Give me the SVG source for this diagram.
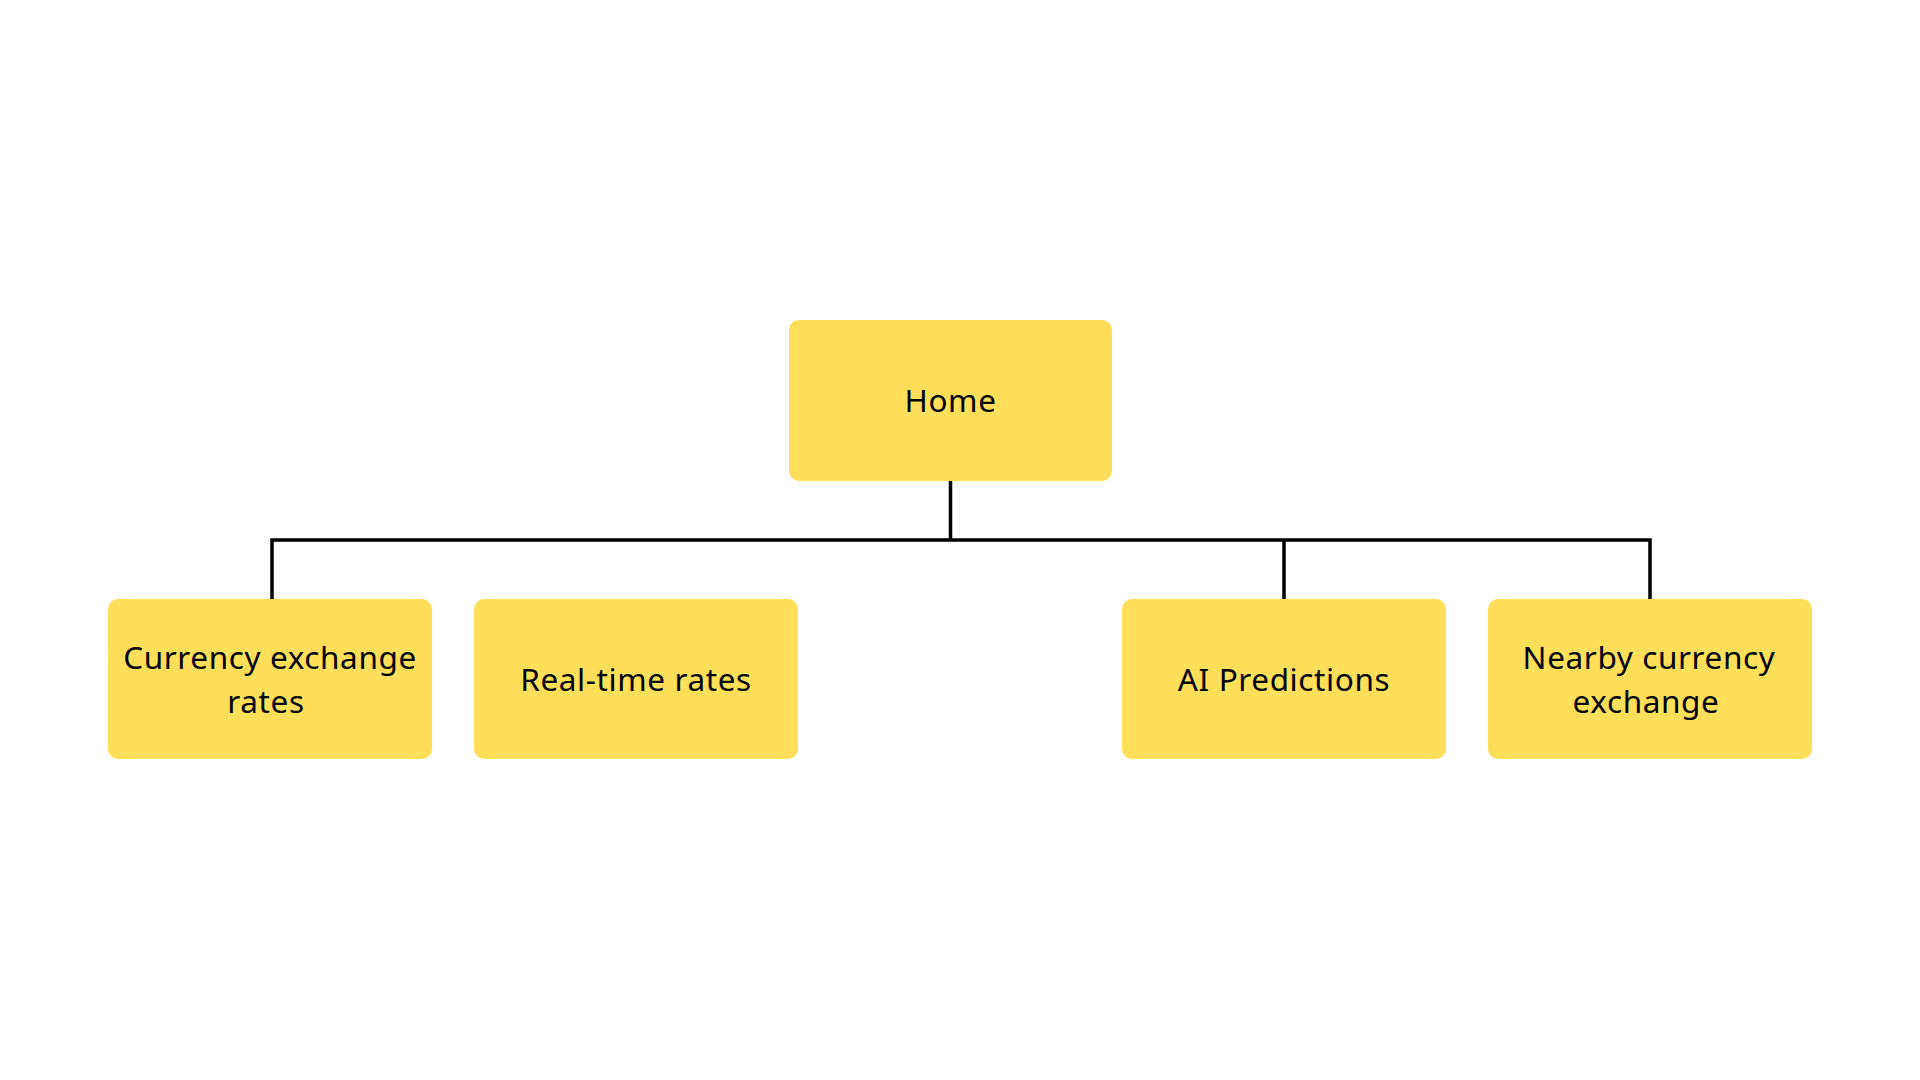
<svg xmlns="http://www.w3.org/2000/svg" width="1920" height="1080" viewBox="0 0 1920 1080">
<style>
.box{fill:#FFDE59}
.lbl{font-family:"Noto Sans","Open Sans",sans-serif;font-size:31.5px;letter-spacing:0.6px;fill:#000;text-anchor:middle}
.conn{fill:none;stroke:#000;stroke-width:3.5}
</style>
<rect width="1920" height="1080" fill="#fff"/>
<g id="connectors">
<path class="conn" d="M950.5 481V540"/>
<path class="conn" d="M272 599V540H1650V599"/>
<path class="conn" d="M1284 540V599"/>
</g>
<g id="home"><rect class="box" x="789" y="320" width="323" height="161" rx="10"/><text class="lbl" x="950.5" y="411.5">Home</text></g>
<g id="currency"><rect class="box" x="108" y="599" width="324" height="160" rx="10"/><text class="lbl" x="270" y="669">Currency exchange</text><text class="lbl" x="266" y="713">rates</text></g>
<g id="realtime"><rect class="box" x="474" y="599" width="324" height="160" rx="10"/><text class="lbl" x="636" y="690.5">Real-time rates</text></g>
<g id="ai"><rect class="box" x="1122" y="599" width="324" height="160" rx="10"/><text class="lbl" x="1284" y="690.5">AI Predictions</text></g>
<g id="nearby"><rect class="box" x="1488" y="599" width="324" height="160" rx="10"/><text class="lbl" x="1649" y="668.5">Nearby currency</text><text class="lbl" x="1646" y="713">exchange</text></g>
</svg>
